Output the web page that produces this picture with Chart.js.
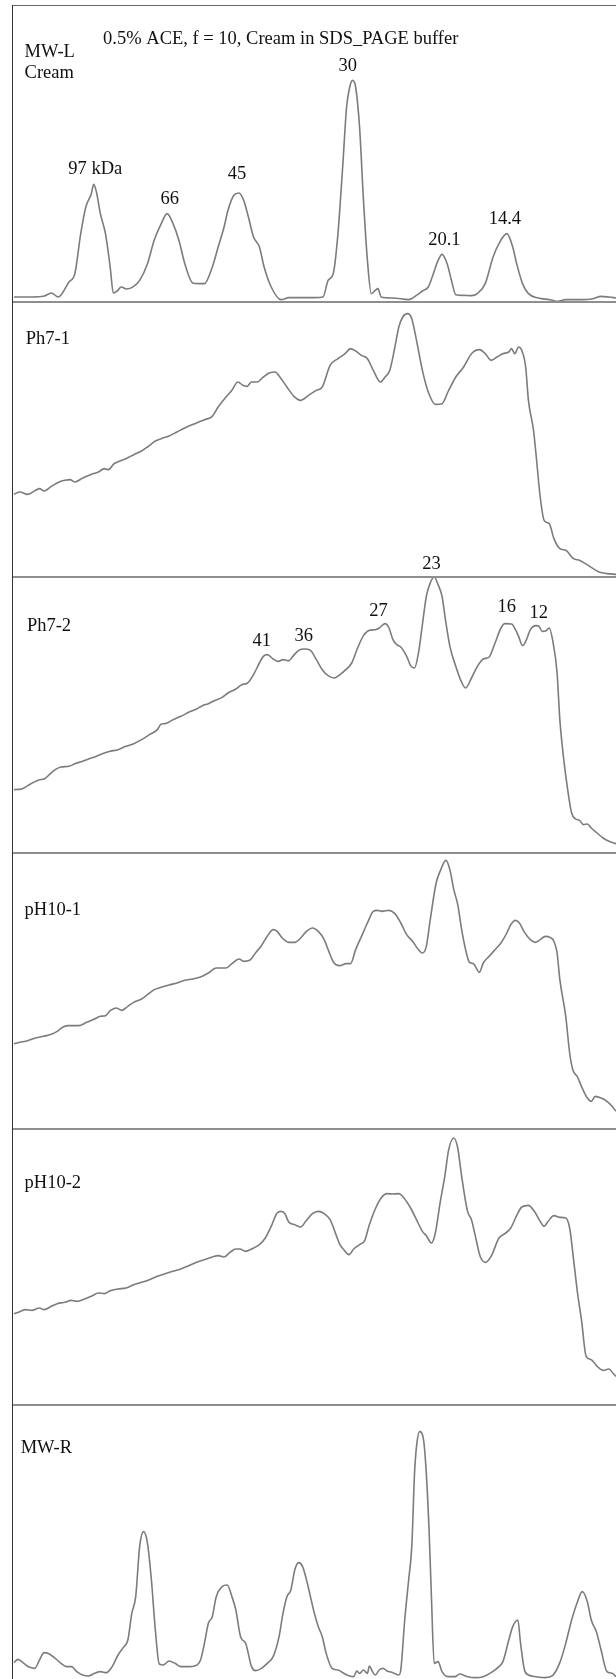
<!DOCTYPE html>
<html>
<head>
<meta charset="utf-8">
<script src="https://cdn.jsdelivr.net/npm/chart.js@4.4.0/dist/chart.umd.min.js"></script>
<style>
  html, body { margin: 0; padding: 0; background: #fff; }
  #fig { position: relative; width: 616px; height: 1679px; overflow: hidden; }
  #fig canvas { position: absolute; left: 0; }
  .rule { position: absolute; }
</style>
</head>
<body>
<div id="fig"></div>
<script>
// densitometry traces, x = migration distance (arb.), y = intensity (arb.)
const mwLX = [35,80,110,130,148,175,190,205,218,232,238,245,255,268,280,288,298,308,322,340,355,375,392,410,425,440,455,470,490,505,520,540,555,570,580,595,608,620,632,645,660,672,690,715,735,760,800,822,835,848,860,872,882,890,897,905,915,925,935,945,955,962,970,1000,1040,1060,1075,1090,1100,1115,1125,1138,1150,1160,1180,1200,1215,1235,1255,1270,1290,1305,1315,1330,1345,1370,1400,1420,1440,1480,1510,1530,1550,1568];
const mwLY = [15,15,17,27,15,60,85,205,285,325,353,330,265,205,105,27,33,45,39,47,65,115,185,235,265,235,185,115,57,55,55,105,165,225,275,320,327,305,255,195,165,105,45,7,13,13,13,15,65,85,205,405,585,645,665,645,525,305,125,25,35,40,15,12,7,20,33,45,75,125,143,115,60,22,20,19,25,55,135,175,205,165,115,55,25,12,7,2,7,7,10,17,15,12];

const ph71X = [35,50,70,90,100,112,130,150,165,178,190,210,230,250,265,275,290,305,320,340,360,375,395,410,430,450,470,485,500,520,540,555,575,590,605,618,628,640,655,668,685,700,712,730,748,765,785,805,820,840,860,878,892,905,920,935,950,968,980,992,1005,1015,1025,1037,1048,1060,1075,1090,1108,1125,1140,1160,1180,1200,1220,1235,1250,1265,1280,1295,1302,1310,1320,1328,1338,1345,1358,1365,1375,1385,1398,1410,1425,1440,1460,1475,1490,1510,1525,1545,1568];
const ph71Y = [248,255,248,260,265,258,272,285,290,292,285,297,307,315,325,322,340,348,355,367,378,390,408,415,423,435,447,455,462,472,482,510,540,560,585,575,572,585,585,598,612,615,600,570,542,530,545,560,570,635,655,670,685,678,665,655,620,585,600,620,690,750,780,790,775,710,620,555,518,520,555,600,630,670,682,670,650,660,670,675,685,670,690,680,630,530,440,360,240,170,160,115,85,80,55,50,40,25,15,10,8];

const ph72X = [35,55,70,85,100,112,125,140,155,175,190,210,225,240,260,280,300,320,340,360,380,400,410,420,440,460,480,500,515,530,545,565,580,600,615,630,645,660,670,680,695,708,720,735,745,760,775,790,805,820,835,850,865,880,895,910,925,940,955,965,980,990,1000,1010,1020,1035,1045,1055,1065,1075,1085,1095,1105,1115,1125,1135,1145,1160,1172,1185,1200,1215,1230,1245,1260,1275,1285,1302,1312,1320,1330,1340,1350,1365,1372,1380,1390,1398,1408,1418,1425,1435,1445,1455,1465,1475,1485,1495,1505,1520,1535,1550,1568];
const ph72Y = [190,192,202,212,220,222,235,250,258,260,268,275,282,288,298,305,310,320,328,340,355,370,387,388,400,410,422,432,442,448,457,467,480,492,505,510,535,570,590,595,582,575,580,577,590,608,612,608,580,550,532,525,535,550,570,615,652,668,670,675,688,675,640,625,618,590,562,555,600,685,770,810,828,805,770,690,620,560,520,495,525,560,582,588,630,675,688,687,670,650,622,640,670,682,680,665,667,675,630,540,400,280,190,120,102,98,85,87,75,60,45,35,28];

const ph101X = [35,50,70,90,110,130,145,160,175,200,220,240,255,268,280,295,310,325,340,360,375,392,410,430,450,470,490,510,530,550,575,590,608,620,635,650,665,680,695,705,718,735,750,765,780,795,810,825,835,850,865,880,892,905,920,935,950,960,972,990,1005,1020,1035,1050,1065,1075,1085,1095,1110,1120,1135,1145,1155,1165,1175,1185,1195,1205,1220,1230,1245,1260,1275,1290,1300,1312,1322,1335,1350,1362,1375,1388,1400,1410,1418,1425,1440,1450,1458,1470,1480,1495,1505,1515,1530,1545,1558,1568];
const ph101Y = [256,260,265,273,278,284,293,306,310,310,320,330,338,340,355,363,356,368,380,390,403,418,425,432,438,446,450,456,468,483,483,496,510,503,506,528,550,578,598,593,573,560,560,573,593,603,593,568,538,498,490,496,496,538,578,618,653,656,653,656,646,618,583,563,538,528,548,628,738,773,806,778,718,673,598,538,500,496,470,498,518,538,558,588,613,626,618,590,568,560,568,578,575,563,528,448,338,228,178,156,128,93,83,98,93,83,68,53];

const ph102X = [35,50,65,80,100,112,130,145,165,180,195,215,235,250,265,280,300,320,340,360,380,400,420,440,460,480,500,520,540,555,570,585,600,610,625,640,660,675,690,705,715,725,735,750,765,778,795,810,825,840,855,865,875,888,900,915,928,940,955,970,985,1000,1015,1028,1045,1060,1075,1085,1098,1108,1120,1132,1142,1155,1165,1175,1190,1200,1210,1222,1235,1250,1270,1285,1300,1315,1328,1345,1360,1375,1385,1395,1410,1425,1440,1450,1460,1470,1480,1492,1505,1520,1535,1550,1560,1568];
const ph102Y = [274,280,286,284,291,286,296,304,308,314,311,318,328,336,334,343,348,351,361,368,376,386,394,401,408,418,428,436,444,448,444,458,468,468,461,468,481,501,536,576,581,574,548,541,534,551,574,581,574,556,511,481,466,451,468,481,493,541,588,621,634,633,634,621,591,556,521,508,486,516,606,686,766,801,771,686,581,556,506,446,428,446,501,514,531,568,594,599,581,551,536,551,568,563,561,531,436,336,256,146,136,116,104,108,96,86];

const mwRX = [35,45,60,75,88,100,112,125,140,155,170,182,195,210,225,240,255,270,285,300,315,325,335,345,355,365,375,385,395,405,415,430,445,460,480,495,510,520,530,540,550,565,578,590,600,612,625,640,650,665,680,695,710,720,730,740,750,760,770,780,790,800,810,820,830,845,860,875,890,900,908,915,925,935,940,948,955,965,975,985,1000,1015,1020,1030,1040,1048,1055,1060,1068,1078,1085,1092,1098,1105,1115,1125,1140,1158,1170,1190,1210,1230,1250,1270,1280,1295,1305,1318,1325,1335,1345,1365,1385,1405,1425,1440,1455,1470,1482,1495,1505,1518,1530,1545,1558,1568];
const mwRY = [49,59,47,35,32,57,79,75,62,47,37,37,22,12,9,17,22,19,37,72,97,117,197,247,397,442,407,297,147,45,42,54,47,37,37,39,57,107,167,187,247,277,282,247,207,127,107,37,25,32,47,67,127,197,247,267,327,349,337,297,247,197,157,127,77,32,27,17,9,7,24,17,27,17,39,22,12,27,32,24,19,12,27,177,297,397,617,697,742,717,617,447,247,47,52,22,7,7,15,7,4,7,19,37,52,117,157,177,107,27,12,7,4,9,49,107,177,232,262,232,177,142,87,22,17,7];

// text in each lane (x, y in the same data units as the traces)
const lane1Text = ["0.5% ACE, f = 10, Cream in SDS_PAGE buffer", "MW-L", "Cream", "97 kDa", "66", "45", "30", "20.1", "14.4"];
const lane1TextX = [262, 62, 62, 242, 432, 603, 885, 1131, 1285];
const lane1TextY = [773, 735, 673, 383, 295, 368, 694, 172, 235];
const lane2Text = ["Ph7-1", "23"];
const lane2TextX = [65, 1098];
const lane2TextY = [700, 25];
const lane3Text = ["Ph7-2", "41", "36", "27", "16", "12"];
const lane3TextX = [68, 666, 773, 963, 1290, 1371];
const lane3TextY = [667, 622, 636, 710, 722, 704];
const lane4Text = ["pH10-1"];
const lane4TextX = [62];
const lane4TextY = [642];
const lane5Text = ["pH10-2"];
const lane5TextX = [62];
const lane5TextY = [650];
const lane6Text = ["MW-R"];
const lane6TextX = [52];
const lane6TextY = [679];

const lanes = [
    { xs: mwLX, ys: mwLY, text: lane1Text, tx: lane1TextX, ty: lane1TextY, left: 3 },
    { xs: ph71X, ys: ph71Y, text: lane2Text, tx: lane2TextX, ty: lane2TextY, left: 1 },
    { xs: ph72X, ys: ph72Y, text: lane3Text, tx: lane3TextX, ty: lane3TextY, left: 1 },
    { xs: ph101X, ys: ph101Y, text: lane4Text, tx: lane4TextX, ty: lane4TextY, left: 1 },
    { xs: ph102X, ys: ph102Y, text: lane5Text, tx: lane5TextX, ty: lane5TextY, left: 1 },
    { xs: mwRX, ys: mwRY, text: lane6Text, tx: lane6TextX, ty: lane6TextY, left: 1 }
];

// panel geometry
const laneTop = [6, 302, 577, 853, 1129, 1405];
const laneHeight = [296, 275, 276, 276, 276, 274];

const fig = document.getElementById('fig');

// labels drawn through the scales
const laneLabels = {
    id: 'laneLabels',
    afterDatasetsDraw(chart, args, opts) {
        const ctx = chart.ctx;
        const x = chart.scales.x;
        const y = chart.scales.y;
        ctx.save();
        ctx.font = '18.5px "Liberation Serif", "Times New Roman", serif';
        ctx.fillStyle = '#111';
        ctx.textBaseline = 'alphabetic';
        opts.text.forEach((t, i) => {
            ctx.textAlign = i < opts.left ? 'left' : 'center';
            ctx.fillText(t, x.getPixelForValue(opts.x[i]), y.getPixelForValue(opts.y[i]));
        });
        ctx.restore();
    }
};

lanes.forEach((lane, i) => {
    const canvas = document.createElement('canvas');
    canvas.width = 616;
    canvas.height = laneHeight[i];
    canvas.style.top = laneTop[i] + 'px';
    fig.appendChild(canvas);

    new Chart(canvas.getContext('2d'), {
        type: 'line',
        data: {
            datasets: [{
                data: lane.xs.map((v, k) => ({ x: v, y: lane.ys[k] })),
                borderColor: '#7c7c7c',
                borderWidth: 1.6,
                pointRadius: 0,
                cubicInterpolationMode: 'monotone',
                fill: false,
                clip: false
            }]
        },
        options: {
            responsive: false,
            animation: false,
            layout: { padding: { left: 12, right: 0, top: 0, bottom: 0 } },
            scales: {
                x: { type: 'linear', min: 30, max: 1568, display: false },
                y: { min: 0, max: laneHeight[i] * 3, display: false }
            },
            plugins: {
                legend: { display: false },
                tooltip: { enabled: false },
                laneLabels: { text: lane.text, x: lane.tx, y: lane.ty, left: lane.left }
            }
        },
        plugins: [laneLabels]
    });
});

// frame: top rule, lane separators, left rule
function rule(x, y, w, h, color) {
    const d = document.createElement('div');
    d.className = 'rule';
    d.style.left = x + 'px';
    d.style.top = y + 'px';
    d.style.width = w + 'px';
    d.style.height = h + 'px';
    d.style.background = color;
    fig.appendChild(d);
}
rule(12, 5, 604, 1, '#666');
[301, 576, 852, 1128, 1404].forEach(y => rule(12, y, 604, 2, '#8e8e8e'));
rule(11.5, 5, 1.6, 1674, '#333');
</script>
</body>
</html>
